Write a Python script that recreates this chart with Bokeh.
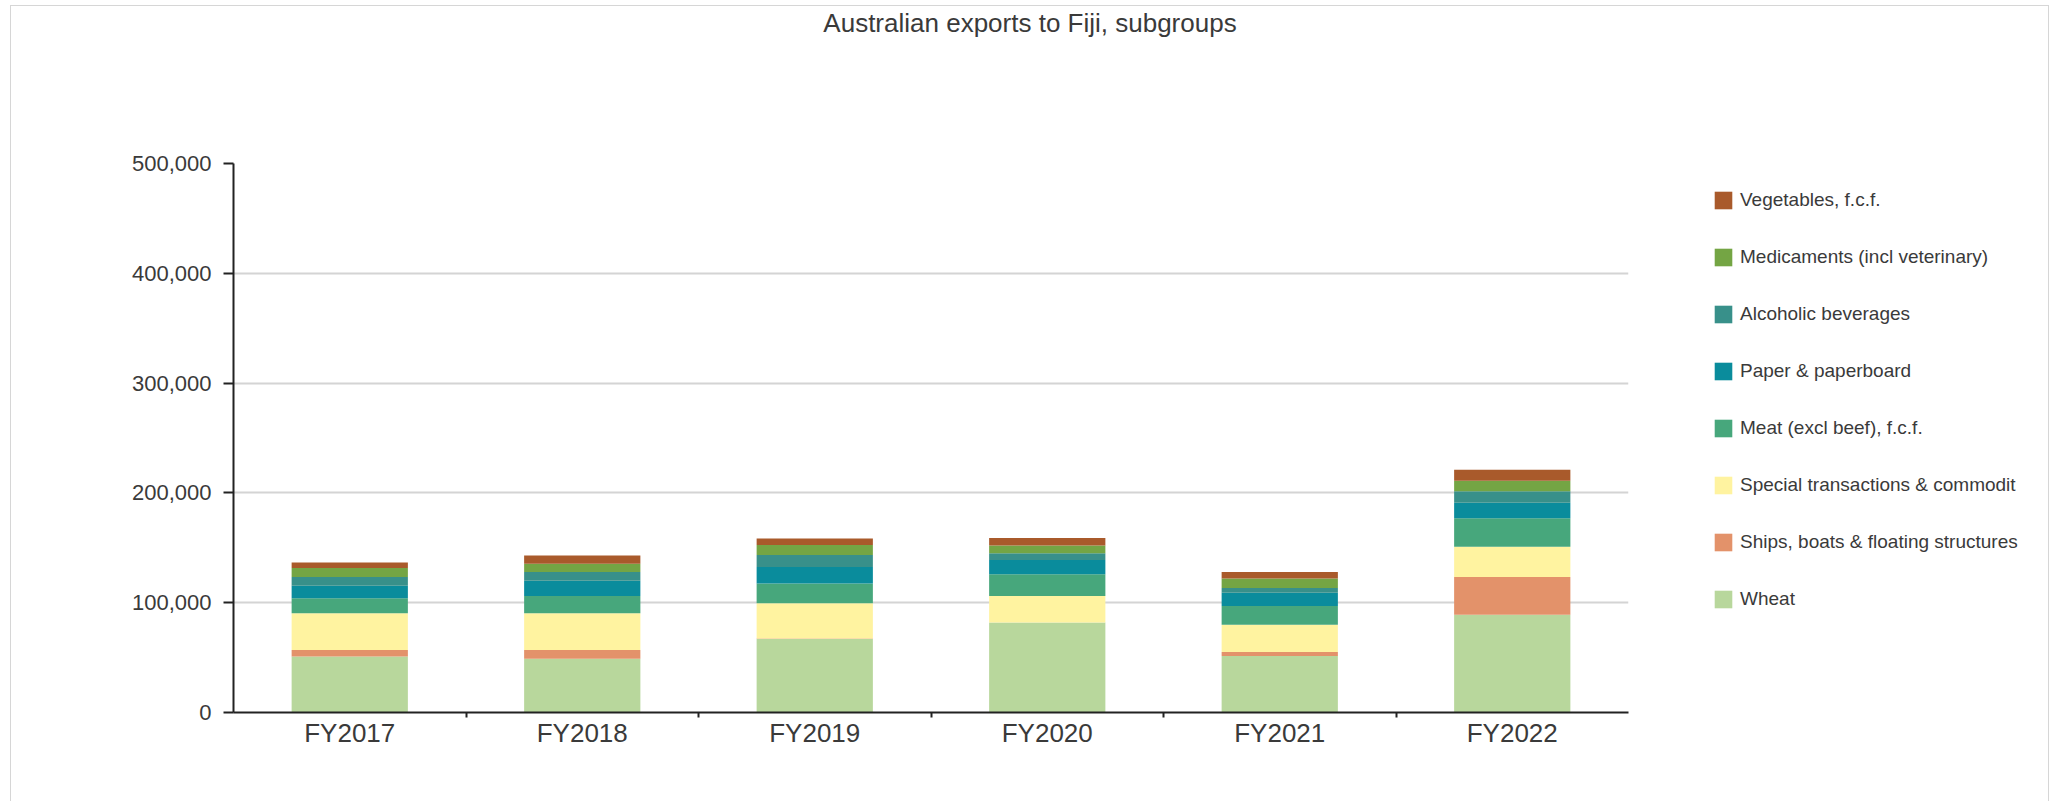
from bokeh.plotting import figure
from bokeh.layouts import column, row
from bokeh.models import (Legend, LegendItem, FixedTicker, NumeralTickFormatter,
                          Label, ColumnDataSource)
from bokeh.embed import file_html
from bokeh.resources import INLINE
import numpy as np

# Export values by subgroup (A$ thousand)
years = ["FY2017", "FY2018", "FY2019", "FY2020", "FY2021", "FY2022"]
wheat = [51000, 49000, 67000, 82000, 51500, 89000]
ships = [6000, 8000, 500, 0, 3500, 34500]
special = [33500, 33500, 32000, 24000, 25000, 27500]
meat = [13500, 15500, 18000, 20000, 17000, 26000]
paper = [11500, 14000, 15000, 13000, 12000, 14000]
alcohol = [8000, 8000, 11000, 6000, 4500, 10500]
medicaments = [8000, 7500, 9000, 7000, 8500, 9500]
vegetables = [5000, 7500, 6000, 7000, 6000, 10000]

series_names = ["Wheat", "Ships, boats & floating structures",
                "Special transactions & commodit", "Meat (excl beef), f.c.f.",
                "Paper & paperboard", "Alcoholic beverages",
                "Medicaments (incl veterinary)", "Vegetables, f.c.f."]
series_values = [wheat, ships, special, meat, paper, alcohol, medicaments, vegetables]
colors = ["#b8d79c", "#e3926a", "#fff3a0", "#47a77c",
          "#0a8c9c", "#38908a", "#74a544", "#a95a2b"]
y_ticks = [0, 100000, 200000, 300000, 400000, 500000]
chart_title = "Australian exports to Fiji, subgroups"

keys = ["s%d" % i for i in range(len(series_names))]
xpos = np.arange(len(years)) + 0.5
data = {"x": xpos}
for k, v in zip(keys, series_values):
    data[k] = v
source = ColumnDataSource(data)

FONT = "Liberation Sans"
TXT = "#3a3a3a"
Y_MAX = 500000
TOTAL_W = 2037
TITLE_H = 40
BODY_H = 755
CHART_W = 1657


def bare(fig):
    fig.outline_line_color = None
    fig.background_fill_color = "white"
    fig.border_fill_color = "white"
    fig.xgrid.visible = False
    fig.ygrid.visible = False


# --- title strip ---
t = figure(width=TOTAL_W, height=TITLE_H, output_backend="svg", toolbar_location=None,
           x_range=(0, 1), y_range=(0, 1), x_axis_type=None, y_axis_type=None,
           min_border=0, title=None)
bare(t)
t.add_layout(Label(x=0.5, y=0.6, text=chart_title, text_align="center",
                   text_baseline="middle", text_font=FONT, text_font_size="26px",
                   text_color=TXT))

# --- stacked bar chart ---
p = figure(width=CHART_W, height=BODY_H, output_backend="svg", toolbar_location=None,
           x_range=(0, len(years)), y_range=(0, Y_MAX), title=None,
           min_border_left=222, min_border_right=CHART_W - 222 - 1395,
           min_border_top=117, min_border_bottom=89)
p.outline_line_color = None
p.background_fill_color = "white"
p.border_fill_color = "white"

renderers = p.vbar_stack(keys, x="x", width=0.5, source=source,
                         color=colors, line_color=None)

p.xaxis.ticker = FixedTicker(ticks=list(xpos), minor_ticks=list(range(1, len(years))))
p.xaxis.major_label_overrides = {float(x): y for x, y in zip(xpos, years)}
p.xaxis.major_tick_line_color = None
p.xaxis.major_tick_out = 0
p.xaxis.major_tick_in = 0
p.xaxis.minor_tick_out = 5
p.xaxis.minor_tick_in = 0
p.xaxis.minor_tick_line_color = "#222222"
p.xaxis.minor_tick_line_width = 2
p.xaxis.axis_line_color = "#222222"
p.xaxis.axis_line_width = 2
p.xaxis.major_label_text_font = FONT
p.xaxis.major_label_text_font_size = "26px"
p.xaxis.major_label_text_color = TXT
p.xaxis.major_label_standoff = 0

p.yaxis.ticker = FixedTicker(ticks=y_ticks)
p.yaxis.formatter = NumeralTickFormatter(format="0,0")
p.yaxis.axis_line_color = "#222222"
p.yaxis.axis_line_width = 2
p.yaxis.major_tick_out = 10
p.yaxis.major_tick_in = 0
p.yaxis.major_tick_line_color = "#222222"
p.yaxis.major_tick_line_width = 2
p.yaxis.minor_tick_line_color = None
p.yaxis.major_label_text_font = FONT
p.yaxis.major_label_text_font_size = "22px"
p.yaxis.major_label_text_color = TXT
p.yaxis.major_label_standoff = 12

p.xgrid.grid_line_color = None
p.ygrid.grid_line_color = "#d4d4d4"
p.ygrid.grid_line_width = 2

# --- legend panel (swatches keyed to the same series) ---
lg = figure(width=TOTAL_W - CHART_W, height=BODY_H, output_backend="svg",
            toolbar_location=None, x_range=(0, 1), y_range=(0, 1),
            x_axis_type=None, y_axis_type=None, min_border=0, title=None)
bare(lg)
keys_r = lg.vbar_stack(keys, x="x", width=0.5, source=source, color=colors,
                       line_color=None)
for r in keys_r:
    r.visible = False

items = [LegendItem(label=n, renderers=[r]) for n, r in zip(series_names, keys_r)]
items.reverse()
legend = Legend(items=items, location=(44, 102), orientation="vertical")
legend.glyph_width = 22
legend.glyph_height = 22
legend.label_height = 22
legend.spacing = 35
legend.padding = 10
legend.margin = 0
legend.label_standoff = 6
legend.label_text_font = FONT
legend.label_text_font_size = "19px"
legend.label_text_color = TXT
legend.border_line_color = None
legend.background_fill_alpha = 0
lg.add_layout(legend)

layout = column(t, row(p, lg), margin=(5, 0, 0, 10),
                styles={"border-top": "1px solid #d6d6d6",
                        "border-left": "1px solid #d6d6d6",
                        "border-right": "1px solid #d6d6d6"})

open("out.html", "w").write(file_html(layout, INLINE))
